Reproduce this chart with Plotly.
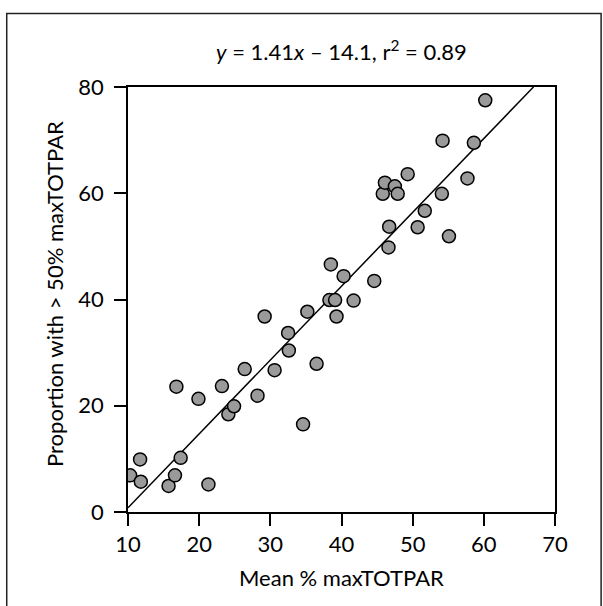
import plotly.graph_objects as go

mean_maxtotpar = [10.3, 11.7, 11.8, 15.7, 16.6, 16.8, 17.4, 19.9, 21.3, 23.2,
                  24.1, 24.9, 26.4, 28.2, 29.2, 30.6, 32.5, 32.6, 34.6, 35.2,
                  36.5, 38.5, 38.3, 39.1, 39.3, 40.3, 41.7, 44.6, 46.6, 46.7,
                  45.8, 46.1, 47.5, 47.9, 49.3, 50.7, 51.7, 54.1, 54.2, 55.1,
                  57.7, 58.6, 60.2]
prop_over_50 = [6.9, 9.9, 5.7, 4.9, 6.9, 23.6, 10.2, 21.3, 5.2, 23.7,
                18.4, 19.9, 26.9, 21.9, 36.8, 26.7, 33.7, 30.4, 16.5, 37.7,
                27.9, 46.6, 39.9, 39.9, 36.8, 44.4, 39.8, 43.5, 49.8, 53.7,
                59.9, 62.0, 61.3, 59.9, 63.6, 53.6, 56.7, 59.9, 69.9, 51.9,
                62.8, 69.5, 77.5]

fit_slope = 1.39
fit_intercept = -13.1
fit_x = [10, 67.0]
fit_y = [fit_slope * v + fit_intercept for v in fit_x]

x_ticks = [10, 20, 30, 40, 50, 60, 70]
y_ticks = [0, 20, 40, 60, 80]

FONT = "Lato"
FS = 22

fig = go.Figure()
fig.add_trace(go.Scatter(x=fit_x, y=fit_y, mode="lines",
                         line=dict(color="black", width=1.5),
                         showlegend=False, hoverinfo="skip"))
fig.add_trace(go.Scatter(x=mean_maxtotpar, y=prop_over_50, mode="markers",
                         marker=dict(size=13, color="#9a9a9a",
                                     line=dict(color="black", width=1.5)),
                         showlegend=False))

axis_common = dict(showline=True, linecolor="black", linewidth=1.5, mirror=True,
                   ticks="outside", ticklen=12, tickwidth=1.5, tickcolor="black",
                   showgrid=False, zeroline=False,
                   tickfont=dict(family=FONT, size=FS, color="black"))

fig.update_layout(
    width=603, height=606,
    margin=dict(l=128, r=48, t=87, b=94),
    paper_bgcolor="white", plot_bgcolor="white",
    xaxis=dict(range=[10, 70], tickvals=x_ticks, **axis_common),
    yaxis=dict(range=[0, 80], tickvals=y_ticks, ticklabelstandoff=6, **axis_common),
    font=dict(family=FONT, color="black"),
    shapes=[dict(type="rect", xref="paper", yref="paper",
                 x0=-0.284, x1=1.108, y0=-0.245, y1=1.173,
                 line=dict(color="#222222", width=1.5))],
    annotations=[
        dict(text="<i>y</i> = 1.41<i>x</i> – 14.1, r<sup>2</sup> = 0.89",
             xref="paper", yref="paper", x=0.5, y=1.087, showarrow=False,
             xanchor="center", yanchor="middle",
             font=dict(family=FONT, size=FS, color="black")),
        dict(text="Mean % maxTOTPAR", xref="paper", yref="paper",
             x=0.5, y=-0.153, showarrow=False, xanchor="center", yanchor="middle",
             font=dict(family=FONT, size=FS, color="black")),
        dict(text="Proportion with > 50% maxTOTPAR", xref="paper", yref="paper",
             x=-0.171, y=0.513, showarrow=False, textangle=-90,
             xanchor="center", yanchor="middle",
             font=dict(family=FONT, size=FS, color="black")),
    ],
)

fig.write_html("out.html")
